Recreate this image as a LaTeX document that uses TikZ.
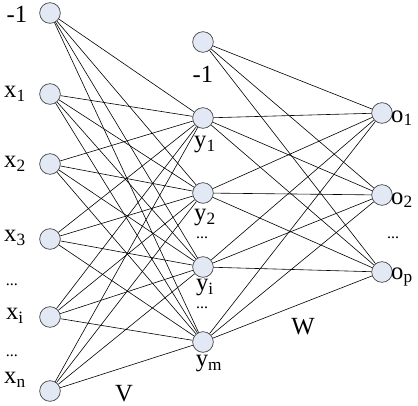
\documentclass[tikz,border=0pt]{standalone}
\usepackage{fontspec}
\setmainfont{Liberation Serif}
\usetikzlibrary{positioning}
\definecolor{neuronfill}{RGB}{226,233,245}
\tikzset{
  neuron/.style={circle,draw=black!75,fill=neuronfill,minimum size=15.5pt,inner sep=0pt,line width=0.5pt},
  conn/.style={black,line width=0.45pt},
  lab/.style={font=\fontsize{18.5}{20}\selectfont,inner sep=0pt},
  dots/.style={font=\fontsize{12}{14}\selectfont,inner sep=0pt}
}

\begin{document}
\begin{tikzpicture}[x=0.75pt,y=-0.75pt]
  \useasboundingbox (0,0) rectangle (418,406);
  % input layer
  \foreach \n/\yy in {b0/13, x1/94, x2/164, x3/239, xi/317, xn/391}
    \node[neuron] (\n) at (50,\yy) {};
  % hidden layer
  \foreach \n/\yy in {hb/42, y1/118, y2/193, yi/267, ym/342}
    \node[neuron] (\n) at (203,\yy) {};
  % output layer
  \foreach \n/\yy in {o1/113, o2/195, op/272}
    \node[neuron] (\n) at (382,\yy) {};
  % weights V
  \foreach \a in {b0,x1,x2,x3,xi,xn}
    \foreach \b in {y1,y2,yi,ym}
      \draw[conn] (\a) -- (\b);
  % weights W
  \foreach \a in {hb,y1,y2,yi,ym}
    \foreach \b in {o1,o2,op}
      \draw[conn] (\a) -- (\b);
  % input labels
  \node[lab] (lb0) at (17,14) {-1};
  \node[lab] (lx1) at (15,94) {x\textsubscript{1}};
  \node[lab] (lx2) at (15,164) {x\textsubscript{2}};
  \node[lab] (lx3) at (15,238) {x\textsubscript{3}};
  \node[dots] (ld1) at (12,285) {...};
  \node[lab] (lxi) at (15,316) {x\textsubscript{i}};
  \node[dots] (ld2) at (12,356) {...};
  \node[lab] (lxn) at (15,380) {x\textsubscript{n}};
  % hidden labels
  \node[lab] (lhb) at (203,74) {-1};
  \node[lab] (ly1) at (205,145) {y\textsubscript{1}};
  \node[lab] (ly2) at (205,218) {y\textsubscript{2}};
  \node[dots] (ld3) at (202,238) {...};
  \node[lab] (lyi) at (205,288) {y\textsubscript{i}};
  \node[dots] (ld4) at (202,308) {...};
  \node[lab] (lym) at (209,364) {y\textsubscript{m}};
  % output labels
  \node[lab] (lo1) at (402,118) {o\textsubscript{1}};
  \node[lab] (lo2) at (402,200) {o\textsubscript{2}};
  \node[dots] (ld5) at (393,238) {...};
  \node[lab] (lop) at (402,277) {o\textsubscript{p}};
  % layer names
  \node[lab] (lV) at (124,394) {V};
  \node[lab] (lW) at (303,327) {W};
\end{tikzpicture}
\end{document}
